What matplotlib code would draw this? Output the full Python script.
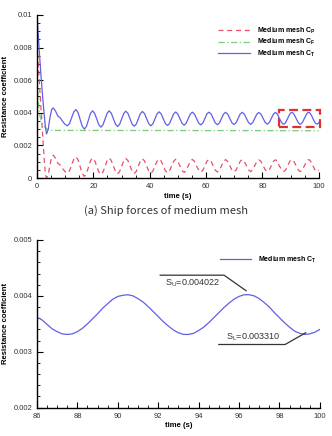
import numpy as np
import matplotlib
matplotlib.use('Agg')
import matplotlib.pyplot as plt
import matplotlib.patches as patches
from matplotlib.ticker import MultipleLocator, FuncFormatter

# ---- time history 0 - 85.35 s (medium mesh) ----
t_early = [0, 0.5, 1.0, 1.5, 2.0, 2.5, 3.0, 3.4, 4.0, 4.6, 5.2, 5.8, 6.6, 7.4, 8.2, 9.0, 9.9, 10.8,
           11.55, 12.3, 13.05, 13.8, 14.55, 15.3, 16.05, 16.8,
           17.53, 18.25, 18.98, 19.7, 20.45, 21.2, 21.95, 22.7,
           23.43, 24.15, 24.88, 25.6, 26.35, 27.1, 27.85, 28.6,
           29.33, 30.05, 30.78, 31.5, 32.25, 33.0, 33.75, 34.5,
           35.23, 35.95, 36.68, 37.4, 38.15, 38.9, 39.65, 40.4,
           41.13, 41.85, 42.58, 43.3, 44.05, 44.8, 45.55, 46.3,
           47.03, 47.75, 48.48, 49.2, 49.95, 50.7, 51.45, 52.2,
           52.93, 53.65, 54.38, 55.1, 55.85, 56.6, 57.35, 58.1,
           58.83, 59.55, 60.28, 61.0, 61.75, 62.5, 63.25, 64.0,
           64.73, 65.45, 66.18, 66.9, 67.65, 68.4, 69.15, 69.9,
           70.63, 71.35, 72.08, 72.8, 73.55, 74.3, 75.05, 75.8,
           76.53, 77.25, 77.98, 78.7, 79.45, 80.2, 80.95, 81.7,
           82.43, 83.15, 83.88, 84.6, 85.35]

ct_early = [0.0100, 0.0086, 0.0073, 0.0061, 0.0050, 0.0040, 0.0031, 0.0027, 0.0030, 0.0037, 0.0042, 0.0043,
            0.0041, 0.0038, 0.0037, 0.0035, 0.0033, 0.0032,
            0.00335, 0.00370, 0.00405, 0.00420, 0.00402, 0.00360, 0.00318, 0.00300,
            0.00316, 0.00356, 0.00396, 0.00412, 0.00397, 0.00362, 0.00327, 0.00312,
            0.00327, 0.00362, 0.00397, 0.00412, 0.00398, 0.00364, 0.00330, 0.00316,
            0.00330, 0.00363, 0.00396, 0.00410, 0.00397, 0.00364, 0.00331, 0.00318,
            0.00331, 0.00363, 0.00395, 0.00408, 0.00395, 0.00364, 0.00333, 0.00320,
            0.00333, 0.00363, 0.00393, 0.00406, 0.00394, 0.00364, 0.00334, 0.00322,
            0.00334, 0.00364, 0.00393, 0.00405, 0.00393, 0.00365, 0.00336, 0.00324,
            0.00336, 0.00364, 0.00392, 0.00404, 0.00393, 0.00365, 0.00337, 0.00326,
            0.00337, 0.00365, 0.00393, 0.00404, 0.00393, 0.00366, 0.00338, 0.00327,
            0.00338, 0.00365, 0.00392, 0.00403, 0.00392, 0.00366, 0.00339, 0.00328,
            0.00339, 0.00366, 0.00392, 0.00403, 0.00392, 0.00366, 0.00340, 0.00329,
            0.00340, 0.00366, 0.00391, 0.00402, 0.00392, 0.00366, 0.00341, 0.00330,
            0.00341, 0.00366, 0.00392, 0.00402, 0.00392]

cp_early = [0.0082, 0.0068, 0.0053, 0.0040, 0.0027, 0.0013, 0.0002, 0.0000, 0.0002, 0.0008, 0.0013, 0.0014,
            0.0012, 0.0009, 0.0008, 0.0006, 0.0004, 0.0003,
            0.00045, 0.00080, 0.00115, 0.00130, 0.00112, 0.00070, 0.00028, 0.00010,
            0.00026, 0.00066, 0.00106, 0.00122, 0.00107, 0.00072, 0.00037, 0.00022,
            0.00037, 0.00072, 0.00107, 0.00122, 0.00108, 0.00074, 0.00040, 0.00026,
            0.00040, 0.00073, 0.00106, 0.00120, 0.00107, 0.00074, 0.00041, 0.00028,
            0.00041, 0.00073, 0.00105, 0.00118, 0.00105, 0.00074, 0.00043, 0.00030,
            0.00043, 0.00073, 0.00103, 0.00116, 0.00104, 0.00074, 0.00044, 0.00032,
            0.00044, 0.00074, 0.00103, 0.00115, 0.00103, 0.00075, 0.00046, 0.00034,
            0.00046, 0.00074, 0.00102, 0.00114, 0.00103, 0.00075, 0.00047, 0.00036,
            0.00047, 0.00075, 0.00103, 0.00114, 0.00103, 0.00076, 0.00048, 0.00037,
            0.00048, 0.00075, 0.00102, 0.00113, 0.00102, 0.00076, 0.00049, 0.00038,
            0.00049, 0.00076, 0.00102, 0.00113, 0.00102, 0.00076, 0.00050, 0.00039,
            0.00050, 0.00076, 0.00101, 0.00112, 0.00102, 0.00076, 0.00051, 0.00040,
            0.00051, 0.00076, 0.00102, 0.00112, 0.00102]

# ---- window 86 - 100 s, every 0.25 s ----
t_zoom = [86.0, 86.25, 86.5, 86.75, 87.0, 87.25, 87.5, 87.75, 88.0, 88.25, 88.5, 88.75,
          89.0, 89.25, 89.5, 89.75, 90.0, 90.25, 90.5, 90.75, 91.0, 91.25, 91.5, 91.75,
          92.0, 92.25, 92.5, 92.75, 93.0, 93.25, 93.5, 93.75, 94.0, 94.25, 94.5, 94.75,
          95.0, 95.25, 95.5, 95.75, 96.0, 96.25, 96.5, 96.75, 97.0, 97.25, 97.5, 97.75,
          98.0, 98.25, 98.5, 98.75, 99.0, 99.25, 99.5, 99.75, 100.0]
ct_zoom = [0.00362, 0.00357, 0.00349, 0.00341, 0.00336, 0.00332, 0.00331, 0.00332, 0.00336, 0.00342,
           0.00350, 0.00359, 0.00368, 0.00378, 0.00386, 0.00394, 0.00399, 0.00401, 0.00402, 0.00400,
           0.00395, 0.00389, 0.00381, 0.00372, 0.00363, 0.00354, 0.00346, 0.00339, 0.00334, 0.00331,
           0.00331, 0.00333, 0.00338, 0.00344, 0.00352, 0.00361, 0.00370, 0.00379, 0.00387, 0.00394,
           0.00399, 0.00402, 0.00402, 0.00400, 0.00395, 0.00388, 0.00380, 0.00370, 0.00361, 0.00352,
           0.00344, 0.00337, 0.00333, 0.00331, 0.00332, 0.00335, 0.00340]
cp_zoom = [0.00072, 0.00067, 0.00059, 0.00051, 0.00046, 0.00042, 0.00041, 0.00042, 0.00046, 0.00052,
           0.00060, 0.00069, 0.00078, 0.00088, 0.00096, 0.00104, 0.00109, 0.00111, 0.00112, 0.00110,
           0.00105, 0.00099, 0.00091, 0.00082, 0.00073, 0.00064, 0.00056, 0.00049, 0.00044, 0.00041,
           0.00041, 0.00043, 0.00048, 0.00054, 0.00062, 0.00071, 0.00080, 0.00089, 0.00097, 0.00104,
           0.00109, 0.00112, 0.00112, 0.00110, 0.00105, 0.00098, 0.00090, 0.00080, 0.00071, 0.00062,
           0.00054, 0.00047, 0.00043, 0.00041, 0.00042, 0.00045, 0.00050]

# friction part, flat after the start-up
t_cf = [0, 0.4, 0.9, 1.6, 2.5, 3.5, 5.0, 100.0]
cf = [0.0062, 0.0048, 0.0039, 0.0035, 0.0032, 0.00300, 0.00292, 0.00290]

S_U = 0.004022
S_L = 0.003310

labels = ['Medium mesh C$_P$', 'Medium mesh C$_F$', 'Medium mesh C$_T$']
c_red, c_green, c_blue = '#e8506a', '#7ccc7c', '#6060e6'

plt.rcParams['font.family'] = ['Liberation Sans', 'DejaVu Sans']
plt.rcParams['mathtext.default'] = 'regular'

t_top = t_early + t_zoom
ct_top = ct_early + ct_zoom
cp_top = cp_early + cp_zoom


def style_axes(ax):
    for s in ['top', 'right']:
        ax.spines[s].set_visible(False)
    for s in ['left', 'bottom']:
        ax.spines[s].set_linewidth(1.0)
    ax.tick_params(which='both', direction='in', labelsize=5.5, colors='black', labelcolor='#333333')
    ax.tick_params(which='major', length=4, width=0.8)
    ax.tick_params(which='minor', length=2, width=0.6)
    ax.yaxis.set_major_formatter(FuncFormatter(lambda v, p: '%g' % round(v, 6)))
    ax.xaxis.set_major_formatter(FuncFormatter(lambda v, p: '%g' % v))
    ax.set_ylabel('Resistance coefficient', fontsize=5.5, fontweight='bold', labelpad=3)
    ax.set_xlabel('time (s)', fontsize=5.5, fontweight='bold', labelpad=2)


fig = plt.figure(figsize=(3.32, 4.36), dpi=100)

# ---- top: full history ----
ax1 = fig.add_axes([0.1114, 0.5917, 0.849, 0.374])
ax1.plot(t_top, cp_top, color=c_red, lw=0.9, ls=(0, (4, 3)), label=labels[0])
ax1.plot(t_cf, cf, color=c_green, lw=0.9, ls=(0, (5, 2, 1, 2)), label=labels[1])
ax1.plot(t_top, ct_top, color=c_blue, lw=0.9, label=labels[2])
ax1.set_xlim(0, 100)
ax1.set_ylim(0, 0.01)
ax1.xaxis.set_major_locator(MultipleLocator(20))
ax1.xaxis.set_minor_locator(MultipleLocator(5))
ax1.yaxis.set_major_locator(MultipleLocator(0.002))
ax1.yaxis.set_minor_locator(MultipleLocator(0.0005))
style_axes(ax1)
ax1.add_patch(patches.Rectangle((86, 0.0031), 14.5, 0.00107, fill=False,
                                edgecolor='#e03030', lw=1.6, ls=(0, (4, 2)), clip_on=False))
ax1.legend(loc='upper right', bbox_to_anchor=(1.0, 0.95), frameon=False,
           prop={'size': 5, 'weight': 'bold'}, handlelength=4.6,
           handletextpad=1.0, labelspacing=0.15, borderaxespad=0)

# ---- bottom: 86 - 100 s ----
ax2 = fig.add_axes([0.1114, 0.065, 0.852, 0.3846])
ax2.plot(t_zoom, ct_zoom, color=c_blue, lw=0.9, label=labels[2])
ax2.set_xlim(86, 100)
ax2.set_ylim(0.002, 0.005)
ax2.xaxis.set_major_locator(MultipleLocator(2))
ax2.xaxis.set_minor_locator(MultipleLocator(0.5))
ax2.yaxis.set_major_locator(MultipleLocator(0.001))
ax2.yaxis.set_minor_locator(MultipleLocator(0.0002))
style_axes(ax2)
ax2.legend(loc='upper right', bbox_to_anchor=(1.0, 0.93), frameon=False,
           prop={'size': 5, 'weight': 'bold'}, handlelength=4.5,
           handletextpad=1.0, borderaxespad=0)

# annotation leaders
ax2.plot([92.1, 95.26, 96.35], [0.00437, 0.00437, S_U + 0.00007], color='#333333', lw=0.9, clip_on=False)
ax2.text(93.7, 0.00423, 'S$_U$=%.6f' % S_U, fontsize=6.5, ha='center', va='center', color='#333333')
ax2.plot([95.0, 98.28, 99.3], [0.00313, 0.00313, S_L + 0.00003], color='#333333', lw=0.9, clip_on=False)
ax2.text(96.7, 0.003265, 'S$_L$=%.6f' % S_L, fontsize=6.5, ha='center', va='center', color='#333333')

fig.text(0.5, 0.516, '(a) Ship forces of medium mesh', ha='center', va='center',
         fontsize=8, color='#333333', family=['Noto Sans CJK KR', 'DejaVu Sans'])

fig.savefig('out.png', dpi=100)
